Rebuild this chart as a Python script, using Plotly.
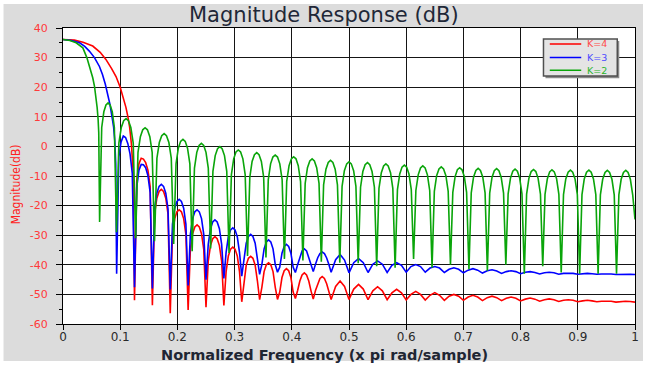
import plotly.graph_objects as go

# ---------------- data ----------------
X_TICKS = [0, 0.1, 0.2, 0.3, 0.4, 0.5, 0.6, 0.7, 0.8, 0.9, 1]
X_TICK_TEXT = ["0", "0.1", "0.2", "0.3", "0.4", "0.5", "0.6", "0.7", "0.8", "0.9", "1"]
Y_TICKS = [-60, -50, -40, -30, -20, -10, 0, 10, 20, 30, 40]
Y_TICK_TEXT = ["-60", "-50", "-40", "-30", "-20", "-10", "0", "10", "20", "30", "40"]

SERIES_NAMES = ["K=4", "K=3", "K=2"]

# ---- K=4 (red) ----
K4_MAIN_F = [0, 0.02, 0.035, 0.052, 0.065, 0.075, 0.085, 0.0927, 0.100, 0.105,
             0.110, 0.1135, 0.1165, 0.1195, 0.1225]
K4_MAIN_DB = [36.1, 35.9, 35.2, 33.9, 31.8, 29.4, 26.3, 23.6, 20.0, 16.8,
              13.2, 10.0, 6.5, 1.0, -8.0]
K4_SIDE_DB = [
    -52.0, -11.5, -5.8, -4.0, -4.3, -5.5, -8.0, -13.5,
    -53.7, -22.8, -17.5, -15.2, -14.5, -15.2, -17.5, -22.8,
    -56.4, -29.7, -24.4, -22.1, -21.4, -22.1, -24.4, -29.7,
    -55.3, -34.8, -29.5, -27.2, -26.5, -27.2, -29.5, -34.8,
    -54.3, -38.8, -33.5, -31.2, -30.5, -31.2, -33.5, -38.8,
    -53.7, -42.3, -37.0, -34.7, -34.0, -34.7, -37.0, -42.3,
    -52.5, -45.4, -40.1, -37.8, -37.1, -37.8, -40.1, -45.4,
    -51.8, -47.6, -42.3, -40.0, -39.3, -40.0, -42.3, -47.6,
    -51.7, -49.2, -44.3, -42.0, -41.3, -42.0, -44.3, -49.2,
    -51.4, -48.7, -45.5, -43.4, -42.7, -43.4, -45.5, -48.8,
    -51.6, -48.7, -46.3, -44.6, -44.0, -44.6, -46.4, -48.8,
]
K4_TAIL_DB = [
    -51.7, -47.3, -45.5, -47.3,
    -51.7, -48.2, -46.6, -48.2,
    -51.8, -48.8, -47.4, -48.8,
    -51.8, -49.5, -48.3, -49.5,
    -51.9, -50.0, -49.0, -50.0,
    -51.9, -50.3, -49.4, -50.3,
    -52.0, -50.6, -50.0, -50.6,
    -52.0, -50.9, -50.3, -50.9,
    -52.1, -51.1, -50.6, -51.1,
    -52.1, -51.3, -50.9, -51.3,
    -52.2, -51.6, -51.2, -51.6,
    -52.3, -51.8, -51.5, -51.8,
    -52.4, -52.0, -51.8, -52.0,
    -52.5, -52.2, -52.0, -52.2,
    -52.5, -52.3, -52.2, -52.3,
    -52.6, -52.4, -52.3, -52.4,
    -52.6,
]

# ---- K=3 (blue) ----
K3_MAIN_F = [0, 0.015, 0.029, 0.038, 0.046, 0.055, 0.0637, 0.069, 0.074, 0.078,
             0.082, 0.0857, 0.0885, 0.0905, 0.0922]
K3_MAIN_DB = [36.1, 35.8, 35.0, 33.8, 32.2, 30.0, 27.0, 24.3, 21.0, 18.0,
              14.3, 10.0, 6.5, 2.0, -6.0]
K3_SIDE_F = [
    0.09375, 0.09766, 0.10156, 0.10547, 0.10938, 0.11328, 0.11719, 0.12109,
    0.125, 0.12891, 0.13281, 0.13672, 0.14063, 0.14453, 0.14844, 0.15234,
    0.15625, 0.16016, 0.16406, 0.16797, 0.17188, 0.17578, 0.17969, 0.18359,
    0.1875, 0.19141, 0.19531, 0.19922, 0.20313, 0.20703, 0.21094, 0.21484,
    0.21875, 0.22266, 0.22656, 0.23047, 0.23438, 0.23828, 0.24219, 0.24609,
    0.25, 0.25391, 0.25781, 0.26172, 0.26563, 0.26953, 0.27344, 0.27734,
    0.28125, 0.28516, 0.28906, 0.29297, 0.29688, 0.30078, 0.30469, 0.30859,
    0.3125, 0.31641, 0.32031, 0.32422, 0.32813, 0.33203, 0.33594, 0.33984,
    0.34375, 0.34766, 0.35156, 0.35547, 0.35938, 0.36328, 0.36719, 0.37109,
    0.375, 0.37891, 0.38281, 0.38672, 0.39063, 0.39453, 0.39844, 0.40234,
    0.40625, 0.41016, 0.41406, 0.41797, 0.42188, 0.42578, 0.42969, 0.43359,
    0.4375, 0.44141, 0.44531, 0.44922, 0.45313, 0.45703, 0.46094, 0.46484,
]
K3_SIDE_DB = [
    -43.0, -3.5, 1.5, 3.5, 3.0, 1.0, -2.5, -9.0,
    -47.6, -13.8, -8.0, -6.1, -6.2, -7.2, -9.8, -15.5,
    -48.0, -21.1, -15.8, -13.5, -12.8, -13.5, -15.8, -21.1,
    -48.3, -26.2, -20.9, -18.6, -17.9, -18.6, -20.9, -26.2,
    -47.0, -29.7, -24.4, -22.1, -21.4, -22.1, -24.4, -29.7,
    -45.0, -33.1, -27.8, -25.5, -24.8, -25.5, -27.8, -33.1,
    -44.6, -35.8, -30.5, -28.2, -27.5, -28.2, -30.5, -35.8,
    -43.8, -38.0, -32.7, -30.4, -29.7, -30.4, -32.7, -38.0,
    -43.2, -39.9, -34.6, -32.3, -31.6, -32.3, -34.6, -39.9,
    -42.5, -40.8, -36.1, -33.8, -33.1, -33.8, -36.1, -40.8,
    -42.6, -40.0, -37.6, -35.3, -34.6, -35.3, -37.6, -40.0,
    -42.3, -39.8, -37.6, -36.2, -35.7, -36.2, -37.7, -39.9,
]
K3_TAIL_DB = [
    -42.5, -38.3, -36.5, -38.4,
    -42.7, -39.3, -37.9, -39.3,
    -42.6, -39.8, -38.7, -39.8,
    -42.6, -40.2, -39.3, -40.2,
    -42.5, -40.6, -39.9, -40.6,
    -42.5, -41.1, -40.6, -41.1,
    -42.6, -41.5, -41.0, -41.5,
    -42.7, -41.8, -41.3, -41.8,
    -42.8, -42.0, -41.7, -42.1,
    -42.9, -42.3, -42.0, -42.3,
    -43.0, -42.5, -42.3, -42.6,
    -43.1, -42.7, -42.5, -42.7,
    -43.2, -42.9, -42.8, -42.9,
    -43.2, -43.0, -42.9, -43.0,
    -43.2, -43.1, -43.0, -43.1,
    -43.3, -43.2, -43.1, -43.2,
    -43.3,
]

# frequencies of the shallow ripple tail shared by K=4 and K=3
TAIL_F = [
    0.46875, 0.4766, 0.4844, 0.4922,
    0.5, 0.5083, 0.5167, 0.525,
    0.5333, 0.5417, 0.55, 0.5583,
    0.5667, 0.575, 0.5833, 0.5917,
    0.6, 0.6083, 0.6167, 0.625,
    0.6333, 0.6417, 0.65, 0.6583,
    0.6667, 0.675, 0.6833, 0.6917,
    0.7, 0.7083, 0.7167, 0.725,
    0.7333, 0.7417, 0.75, 0.7583,
    0.7667, 0.775, 0.7833, 0.7917,
    0.8, 0.8083, 0.8167, 0.825,
    0.8333, 0.8417, 0.85, 0.8583,
    0.8667, 0.875, 0.8833, 0.8917,
    0.9, 0.9083, 0.9167, 0.925,
    0.9333, 0.9417, 0.95, 0.9583,
    0.9667, 0.975, 0.9833, 0.9917,
    1.0,
]

# ---- K=2 (green) ----
K2_MAIN_F = [0, 0.012, 0.023, 0.0347, 0.0417, 0.0464, 0.052, 0.055, 0.058,
             0.0597, 0.0614, 0.0625]
K2_MAIN_DB = [36.1, 35.8, 35.0, 33.3, 30.0, 27.1, 23.2, 20.4, 16.4,
              13.1, 9.1, 4.6]
K2_SIDE_F = [
    0.0640, 0.0677, 0.0714, 0.0751, 0.0788, 0.0824, 0.0861, 0.0898,
    0.0935, 0.0977, 0.1019, 0.1061, 0.1103, 0.1144, 0.1186, 0.1228,
    0.1270, 0.1311, 0.1353, 0.1394, 0.1435, 0.1476, 0.1518, 0.1559,
    0.1600, 0.1642, 0.1684, 0.1726, 0.1768, 0.1809, 0.1851, 0.1893,
    0.1935, 0.1976, 0.2016, 0.2056, 0.2097, 0.2137, 0.2177, 0.2218,
    0.2258, 0.2298, 0.2339, 0.2379, 0.2419, 0.2460, 0.2500, 0.2540,
    0.2581, 0.2621, 0.2661, 0.2702, 0.2742, 0.2782, 0.2823, 0.2863,
    0.2903, 0.2944, 0.2984, 0.3024, 0.3065, 0.3105, 0.3145, 0.3185,
    0.3226, 0.3266, 0.3306, 0.3347, 0.3387, 0.3427, 0.3468, 0.3508,
    0.3548, 0.3589, 0.3629, 0.3669, 0.3710, 0.3750, 0.3790, 0.3831,
    0.3871, 0.3911, 0.3952, 0.3992, 0.4032, 0.4073, 0.4113, 0.4153,
    0.4194, 0.4234, 0.4274, 0.4315, 0.4355, 0.4395, 0.4435, 0.4476,
    0.4516, 0.4556, 0.4597, 0.4637, 0.4677, 0.4718, 0.4758, 0.4798,
    0.4839, 0.4879, 0.4919, 0.4960, 0.5000, 0.5040, 0.5081, 0.5121,
    0.5161, 0.5202, 0.5242, 0.5282, 0.5323, 0.5363, 0.5403, 0.5444,
    0.5484, 0.5524, 0.5565, 0.5605, 0.5645, 0.5685, 0.5726, 0.5766,
    0.5806, 0.5847, 0.5887, 0.5927, 0.5968, 0.6008, 0.6048, 0.6089,
    0.6129, 0.6169, 0.6210, 0.6250, 0.6290, 0.6331, 0.6371, 0.6411,
    0.6452, 0.6492, 0.6532, 0.6573, 0.6613, 0.6653, 0.6694, 0.6734,
    0.6774, 0.6815, 0.6855, 0.6895, 0.6935, 0.6976, 0.7016, 0.7056,
    0.7097, 0.7137, 0.7177, 0.7218, 0.7258, 0.7298, 0.7339, 0.7379,
    0.7419, 0.7460, 0.7500, 0.7540, 0.7581, 0.7621, 0.7661, 0.7702,
    0.7742, 0.7782, 0.7823, 0.7863, 0.7903, 0.7944, 0.7984, 0.8024,
    0.8065, 0.8105, 0.8145, 0.8185, 0.8226, 0.8266, 0.8306, 0.8347,
    0.8387, 0.8427, 0.8468, 0.8508, 0.8548, 0.8589, 0.8629, 0.8669,
    0.8710, 0.8750, 0.8790, 0.8831, 0.8871, 0.8911, 0.8952, 0.8992,
    0.9032, 0.9073, 0.9113, 0.9153, 0.9194, 0.9234, 0.9274, 0.9315,
    0.9355, 0.9395, 0.9435, 0.9476, 0.9516, 0.9556, 0.9597, 0.9637,
    0.9677, 0.9718, 0.9758, 0.9798, 0.9839, 0.9879, 0.9919, 0.9960,
    1.0,
]
K2_SIDE_DB = [
    -25.5, 6.4, 11.7, 14.0, 14.7, 14.0, 11.7, 6.4,
    -29.0, 1.1, 6.4, 8.7, 9.4, 8.7, 6.4, 1.1,
    -31.0, -2.0, 3.3, 5.6, 6.3, 5.6, 3.3, -2.0,
    -32.0, -4.0, 1.3, 3.6, 4.3, 3.6, 1.3, -4.0,
    -33.0, -5.9, -0.6, 1.7, 2.4, 1.7, -0.6, -5.9,
    -35.4, -7.3, -2.0, 0.3, 1.0, 0.3, -2.0, -7.3,
    -34.5, -8.4, -3.1, -0.8, -0.1, -0.8, -3.1, -8.4,
    -36.0, -9.5, -4.2, -1.9, -1.2, -1.9, -4.2, -9.5,
    -37.0, -10.4, -5.1, -2.8, -2.1, -2.8, -5.1, -10.4,
    -37.5, -11.2, -5.9, -3.6, -2.9, -3.6, -5.9, -11.2,
    -38.0, -11.8, -6.5, -4.2, -3.5, -4.2, -6.5, -11.8,
    -38.5, -12.5, -7.2, -4.9, -4.2, -4.9, -7.2, -12.5,
    -39.0, -13.0, -7.7, -5.4, -4.7, -5.4, -7.7, -13.0,
    -39.3, -13.5, -8.2, -5.9, -5.2, -5.9, -8.2, -13.5,
    -39.5, -13.8, -8.5, -6.2, -5.5, -6.2, -8.5, -13.8,
    -40.5, -14.2, -8.9, -6.6, -5.9, -6.6, -8.9, -14.2,
    -41.0, -14.6, -9.3, -7.0, -6.3, -7.0, -9.3, -14.6,
    -38.0, -14.9, -9.6, -7.3, -6.6, -7.3, -9.6, -14.9,
    -41.0, -15.2, -9.9, -7.6, -6.9, -7.6, -9.9, -15.2,
    -40.0, -15.5, -10.2, -7.9, -7.2, -7.9, -10.2, -15.5,
    -41.5, -15.7, -10.4, -8.1, -7.4, -8.1, -10.4, -15.7,
    -42.0, -15.8, -10.5, -8.2, -7.5, -8.2, -10.5, -15.8,
    -40.0, -16.0, -10.7, -8.4, -7.7, -8.4, -10.7, -16.0,
    -43.0, -16.1, -10.8, -8.5, -7.8, -8.5, -10.8, -16.1,
    -40.5, -16.2, -10.9, -8.6, -7.9, -8.6, -10.9, -16.2,
    -42.6, -16.3, -11.0, -8.7, -8.0, -8.7, -11.0, -16.3,
    -43.0, -16.3, -11.0, -8.7, -8.0, -8.7, -11.0, -16.3,
    -43.0, -16.4, -11.1, -8.8, -8.1, -8.8, -11.1, -16.4,
    -43.0, -16.4, -11.1, -8.8, -8.1, -8.8, -11.1, -16.4,
    -24.7,
]

# ---------------- assemble series ----------------
K4_F = K4_MAIN_F + K3_SIDE_F[8:] + TAIL_F
K4_DB = K4_MAIN_DB + K4_SIDE_DB + K4_TAIL_DB
K3_F = K3_MAIN_F + K3_SIDE_F + TAIL_F
K3_DB = K3_MAIN_DB + K3_SIDE_DB + K3_TAIL_DB
K2_F = K2_MAIN_F + K2_SIDE_F
K2_DB = K2_MAIN_DB + K2_SIDE_DB

COLORS = ["rgb(255,0,0)", "rgb(0,0,255)", "rgb(10,165,10)"]
LEGEND_TEXT_COLORS = ["#ff4a4a", "#4a4aff", "#2ab52a"]

fig = go.Figure()
for name, fx, fy, col in zip(SERIES_NAMES, [K4_F, K3_F, K2_F], [K4_DB, K3_DB, K2_DB], COLORS):
    fig.add_trace(go.Scatter(x=fx, y=fy, mode="lines", name=name,
                             line=dict(color=col, width=1.6), showlegend=False))

axis_common = dict(showgrid=True, gridcolor="#151515", gridwidth=1, zeroline=False,
                   showline=True, linecolor="#000000", linewidth=1, mirror=True,
                   ticks="outside", tickcolor="#000000")

fig.update_xaxes(range=[0, 1], tickvals=X_TICKS, ticktext=X_TICK_TEXT, ticklen=5,
                 ticklabelstandoff=-3,
                 tickfont=dict(family="DejaVu Sans", size=12, color="#2a2a2a"),
                 **axis_common)
fig.update_yaxes(range=[-60, 40], tickvals=Y_TICKS, ticktext=Y_TICK_TEXT, ticklen=6,
                 ticklabelstandoff=6,
                 tickfont=dict(family="DejaVu Sans", size=11, color="#ff3a3a"),
                 minor=dict(tickvals=[-55, -45, -35, -25, -15, -5, 5, 15, 25, 35],
                            ticks="outside", ticklen=3, tickcolor="#000000", showgrid=False),
                 **axis_common)

shapes = [
    # grey panel behind everything
    dict(type="rect", xref="paper", yref="paper", x0=-0.104, x1=1.014, y0=-0.125, y1=1.081,
         fillcolor="#dcdcdc", line=dict(width=0), layer="below"),
    dict(type="rect", xref="paper", yref="paper", x0=0, x1=1, y0=0, y1=1,
         fillcolor="#ffffff", line=dict(width=0), layer="below"),
    # legend box (shadow + box)
    dict(type="rect", xref="paper", yref="paper", x0=0.8435, x1=0.9725, y0=0.830, y1=0.956,
         fillcolor="#8a8a8a", line=dict(width=0)),
    dict(type="rect", xref="paper", yref="paper", x0=0.840, x1=0.969, y0=0.838, y1=0.963,
         fillcolor="#e4e4e4", line=dict(color="#505050", width=1.5)),
]
legend_y = [0.946, 0.900, 0.857]
annotations = []
for name, col, tcol, ly in zip(SERIES_NAMES, COLORS, LEGEND_TEXT_COLORS, legend_y):
    shapes.append(dict(type="line", xref="paper", yref="paper", x0=0.851, x1=0.906, y0=ly, y1=ly,
                       line=dict(color=col, width=1.5)))
    annotations.append(dict(text=name, xref="paper", yref="paper", x=0.913, y=ly,
                            xanchor="left", yanchor="middle", showarrow=False,
                            font=dict(family="DejaVu Sans", size=9.5, color=tcol)))

annotations += [
    dict(text="Magnitude Response (dB)", xref="paper", yref="paper", x=0.4557, y=1.044,
         xanchor="center", yanchor="middle", showarrow=False,
         font=dict(family="DejaVu Sans", size=21, color="#1f2838")),
    dict(text="<b>Normalized Frequency (x pi rad/sample)</b>", xref="paper", yref="paper",
         x=0.4566, y=-0.104, xanchor="center", yanchor="middle", showarrow=False,
         font=dict(family="DejaVu Sans", size=14.5, color="#1f2633")),
    dict(text="Magnitude(dB)", xref="paper", yref="paper", x=-0.0816, y=0.473,
         xanchor="center", yanchor="middle", showarrow=False, textangle=-90,
         font=dict(family="Liberation Sans Narrow, DejaVu Sans Condensed, Liberation Sans",
                   size=12, color="#ff2020")),
]

fig.update_layout(width=649, height=368, margin=dict(l=63, r=10, t=28, b=44),
                  paper_bgcolor="#ffffff", plot_bgcolor="#ffffff",
                  shapes=shapes, annotations=annotations, showlegend=False)

fig.write_html("out.html")
